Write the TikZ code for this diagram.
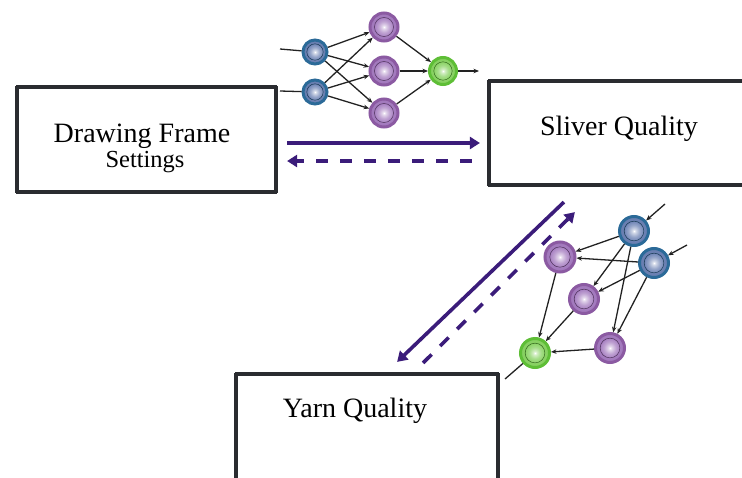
\documentclass[tikz,border=0pt]{standalone}
\usepackage{fontspec}
\setmainfont{Liberation Serif}
\usetikzlibrary{arrows.meta}

\definecolor{flow}{HTML}{3B1C7A}
\definecolor{frame}{HTML}{2A2C30}
\definecolor{edge}{HTML}{222222}
\definecolor{bluering}{HTML}{2B6A98}
\definecolor{bluefill}{HTML}{6A80B3}
\definecolor{purplering}{HTML}{8B5AA2}
\definecolor{purplefill}{HTML}{A47BBF}
\definecolor{greenring}{HTML}{5EBE36}
\definecolor{greenfill}{HTML}{88D262}

% ball shadings: small white highlight in the middle, then the body colour
\pgfdeclareradialshading{blueball}{\pgfpoint{0bp}{0bp}}{%
  color(0bp)=(white); color(3bp)=(white!70!bluefill);
  color(10bp)=(bluefill!70!white); color(18bp)=(bluefill);
  color(50bp)=(bluefill!90!black)}
\pgfdeclareradialshading{purpleball}{\pgfpoint{0bp}{0bp}}{%
  color(0bp)=(white); color(3bp)=(white!70!purplefill);
  color(10bp)=(purplefill!70!white); color(18bp)=(purplefill);
  color(50bp)=(purplefill!90!black)}
\pgfdeclareradialshading{greenball}{\pgfpoint{0bp}{0bp}}{%
  color(0bp)=(white); color(3bp)=(white!65!greenfill);
  color(10bp)=(greenfill!75!white); color(18bp)=(greenfill);
  color(50bp)=(greenfill!92!black)}

\tikzset{
  box/.style={draw=frame, line width=4.2pt, fill=white, inner sep=0pt,
    minimum width=#1},
  boxtext/.style={anchor=base, inner sep=0pt, font=\fontsize{28}{30}\selectfont},
  subtext/.style={anchor=base, inner sep=0pt, font=\fontsize{24.5}{26}\selectfont},
  corner/.style={fill=white, inner sep=0pt, minimum size=2pt},
  neuron/.style n args={3}{circle, inner sep=0pt, minimum size=#1,
    draw=#2, line width=3pt, shading=#3,
    path picture={\draw[line width=0.5pt, draw=#2!55!black]
      (path picture bounding box.center) circle[radius=0.34*#1];}},
  bneuron/.style={neuron={#1}{bluering}{blueball}},
  pneuron/.style={neuron={#1}{purplering}{purpleball}},
  gneuron/.style={neuron={#1}{greenring}{greenball}},
  link/.style={draw=edge, line width=1.3pt, -{Stealth[length=5.5pt,width=4.5pt]}},
  wire/.style={draw=edge, line width=1.3pt},
  flowline/.style={draw=flow, line width=3.6pt,
    -{Triangle[length=10pt,width=12pt]}},
  flowdash/.style={flowline, dash pattern=on 12pt off 12pt},
}

\begin{document}
\begin{tikzpicture}[x=1pt, y=-1pt]
  \useasboundingbox (0,0) rectangle (742,477);
  \clip (0,0) rectangle (742,477);

  % process boxes
  \node[box=259pt, minimum height=105pt] (df) at (146.5,139.5) {};
  \node[box=271pt, minimum height=104pt] (sq) at (624.5,133) {};
  \node[box=262pt, minimum height=146pt] (yq) at (367,447) {};

  \foreach \b in {df,sq,yq}
    \foreach \c in {north west,north east,south west,south east}
      \node[corner] (\b-\c) at (\b.\c) {};

  \node[boxtext] (dftext) at (142,142) {Drawing Frame};
  \node[subtext] (dfsub) at (145,167) {Settings};
  \node[boxtext] (sqtext) at (619,135) {Sliver Quality};
  \node[boxtext] (yqtext) at (355,417) {Yarn Quality};

  % exchange between drawing frame and sliver quality
  \draw[flowline] ([shift={(9,3.5)}]df.east) -- ([shift={(-7,10)}]sq.west);
  \draw[flowdash] ([shift={(-15,28)}]sq.west) -- ([shift={(9,21.5)}]df.east);

  % exchange between sliver quality and yarn quality
  \draw[flowline] ([shift={(77,15)}]sq.south west) -- ([shift={(-103,-10)}]yq.north east);
  \draw[flowdash] ([shift={(-77,-9)}]yq.north east) -- ([shift={(88,25)}]sq.south west);

  % upper network
  \node[bneuron=24pt] (b1) at (315,52) {};
  \node[bneuron=24pt] (b2) at (315,92) {};
  \node[pneuron=28pt] (p1) at (384,27) {};
  \node[pneuron=28pt] (p2) at (384,71) {};
  \node[pneuron=28pt] (p3) at (384,113) {};
  \node[gneuron=27pt] (g) at (443,71) {};
  \coordinate (in1) at (280,49);
  \coordinate (in2) at (280,91);
  \coordinate (out1) at (479,71);

  \draw[wire] (in1) -- (b1);
  \draw[wire] (in2) -- (b2);
  \foreach \s in {b1,b2}
    \foreach \t in {p1,p2,p3}
      \draw[link] (\s) -- (\t);
  \foreach \s in {p1,p2,p3}
    \draw[link] (\s) -- (g);
  \draw[link] (g) -- (out1);

  % lower network
  \node[bneuron=29pt] (na) at (634,231) {};
  \node[bneuron=29pt] (nb) at (654,263) {};
  \node[pneuron=30pt] (q1) at (560,257) {};
  \node[pneuron=29pt] (q2) at (584,299) {};
  \node[pneuron=29pt] (q3) at (610,348) {};
  \node[gneuron=29pt] (ng) at (535,353) {};
  \coordinate (ina) at (665,204);
  \coordinate (inb) at (687,245);
  \coordinate (out2) at (505,379);

  \draw[link] (ina) -- (na);
  \draw[link] (inb) -- (nb);
  \foreach \s in {na,nb}
    \foreach \t in {q1,q2,q3}
      \draw[link] (\s) -- (\t);
  \foreach \s in {q1,q2,q3}
    \draw[link] (\s) -- (ng);
  \draw[wire] (ng) -- (out2);
\end{tikzpicture}
\end{document}
